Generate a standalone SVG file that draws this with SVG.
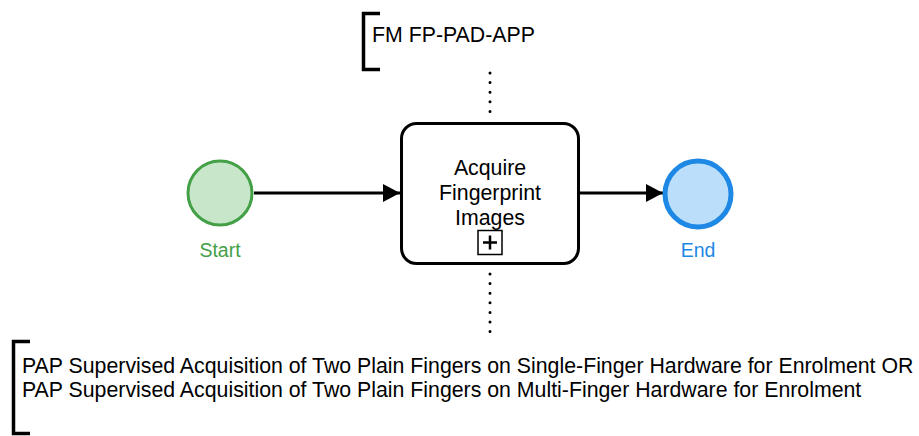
<svg xmlns="http://www.w3.org/2000/svg" width="919" height="436" viewBox="0 0 919 436">
<style>
text{font-family:"Liberation Sans",Arial,sans-serif;fill:#000}
.t{font-size:21.3px}
.lbl{font-size:19.5px;text-anchor:middle}
.assoc{stroke:#000;stroke-width:3;stroke-linecap:round;stroke-dasharray:0 9.6;fill:none}
.flow{stroke:#000;stroke-width:3;fill:none}
.br{stroke:#000;stroke-width:3.5;fill:none}
</style>
<defs>
<marker id="arr" markerWidth="18" markerHeight="18" refX="17" refY="9" orient="auto" markerUnits="userSpaceOnUse">
<path d="M0,0 L17,9 L0,18 Z" fill="#000"/>
</marker>
</defs>
<g id="connectors">
<line class="flow" x1="254" y1="193" x2="400" y2="193" marker-end="url(#arr)"/>
<line class="flow" x1="580" y1="193" x2="663" y2="193" marker-end="url(#arr)"/>
<line class="assoc" x1="490" y1="73" x2="490" y2="121"/>
<line class="assoc" x1="490" y1="274" x2="490" y2="335"/>
</g>
<g id="start">
<circle cx="220" cy="193" r="32" fill="#c8e6c9" stroke="#43a047" stroke-width="3"/>
<text class="lbl" x="220" y="257" style="fill:#43a047">Start</text>
</g>
<g id="task">
<rect x="401.5" y="123.5" width="177" height="140" rx="15" fill="#fff" stroke="#000" stroke-width="3"/>
<text class="t" text-anchor="middle" x="490" y="175">Acquire</text>
<text class="t" text-anchor="middle" x="490" y="200">Fingerprint</text>
<text class="t" text-anchor="middle" x="490" y="225">Images</text>
<rect x="478" y="230.5" width="24" height="24" fill="#fff" stroke="#000" stroke-width="1.5"/>
<path d="M483,242.5 H497 M490,235.5 V249.5" stroke="#000" stroke-width="2.5" fill="none"/>
</g>
<g id="end">
<circle cx="698" cy="194" r="33" fill="#bbdefb" stroke="#1e88e5" stroke-width="5"/>
<text class="lbl" x="698" y="257" style="fill:#1e88e5">End</text>
</g>
<g id="annotation-top">
<path class="br" d="M380,13.5 H363.5 V69.5 H380"/>
<text class="t" x="372" y="42">FM FP-PAD-APP</text>
</g>
<g id="annotation-bottom">
<path class="br" d="M30,341.5 H13.5 V433.5 H30"/>
<text class="t" x="22" y="373">PAP Supervised Acquisition of Two Plain Fingers on Single-Finger Hardware for Enrolment OR</text>
<text class="t" x="22" y="397">PAP Supervised Acquisition of Two Plain Fingers on Multi-Finger Hardware for Enrolment</text>
</g>
</svg>
